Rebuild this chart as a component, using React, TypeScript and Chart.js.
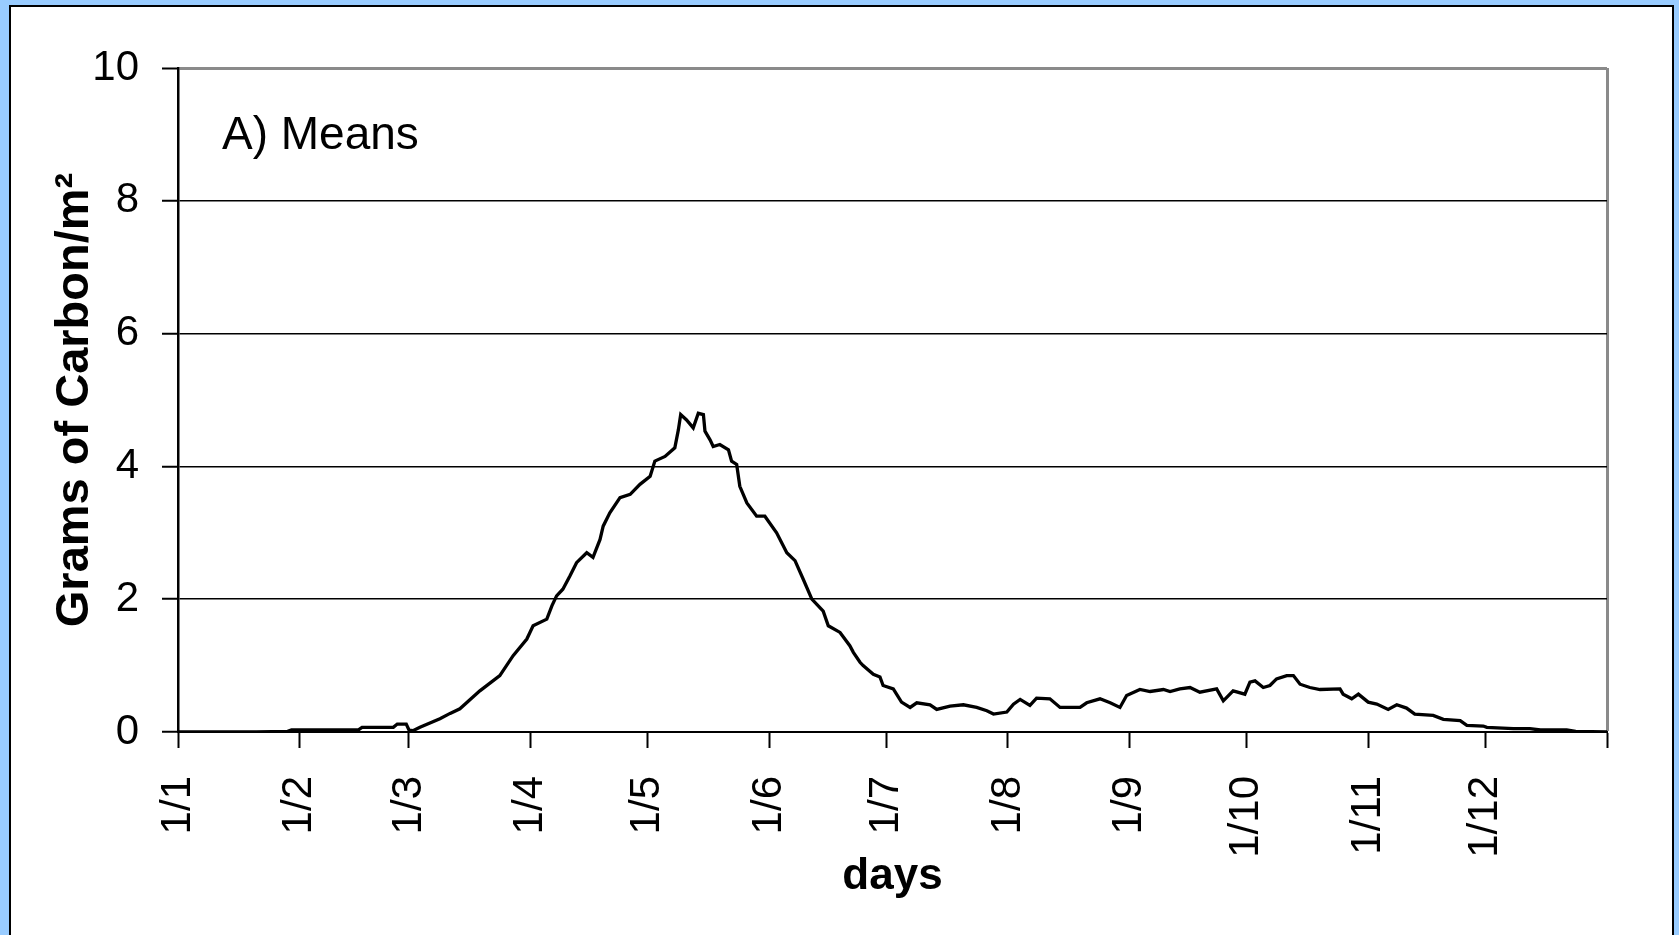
import React, { useEffect, useRef } from "react";
import { Chart, registerables } from "chart.js";

Chart.register(...registerables);

// Day of year (0 = 1 January) for each sample of the mean series
const dayOfYear = [
  0, 10, 20, 28, 29, 46, 47, 55, 56, 58.3, 59, 60, 61.8, 66.9, 69.5, 72, 77.1, 82.2, 85.6, 89.1,
  90.7, 94.2, 95.5, 96.7, 98.3, 100.1, 101.8, 104.4, 106, 107.8, 108.6, 110.3, 112.9, 115.5, 118,
  120.6, 121.8, 124.4, 126.9, 127.8, 128.4, 129.9, 131.6, 132.9, 134.2, 134.6, 135.9, 136.7, 138.4,
  140.6, 141.4, 142.7, 143.5, 145.3, 147.8, 149.9, 152.9, 155.5, 157.6, 159.7, 161.9, 164.8, 166.1,
  169.1, 171.6, 172.5, 174.2, 175, 177.6, 179.3, 180.1, 182.7, 184.8, 187, 188.7, 192.1, 193.8,
  197.2, 200.6, 204, 206.6, 208.3, 211.7, 213.4, 215.1, 217.6, 219.3, 222.7, 225.3, 230.4, 232.1,
  235.5, 238.1, 240.6, 242.3, 245.7, 248.3, 251.7, 253.4, 255.9, 258.5, 261, 265.3, 267, 269.5,
  272.5, 273.8, 275.1, 277.2, 278.9, 280.6, 283.2, 284.9, 286.6, 289.1, 291.7, 296.8, 297.6, 299.8,
  301.5, 304, 306.2, 309.1, 311.3, 313.8, 315.9, 320.6, 323.2, 327.5, 329.2, 333.4, 334.3, 341.1,
  345.3, 348, 354.7, 357, 365,
];

// Mean grams of carbon per square metre on those days
const carbonMeans = [
  0, 0, 0, 0.01, 0.03, 0.03, 0.07, 0.07, 0.12, 0.12, 0.03, 0.02, 0.07, 0.2, 0.28, 0.35, 0.62, 0.85, 1.15, 1.4,
  1.6, 1.7, 1.9, 2.05, 2.15, 2.35, 2.55, 2.7, 2.63, 2.9, 3.1, 3.3, 3.53, 3.58, 3.73,
  3.85, 4.08, 4.15, 4.28, 4.55, 4.78, 4.7, 4.58, 4.8, 4.78, 4.53, 4.4, 4.3, 4.33,
  4.25, 4.08, 4.03, 3.7, 3.45, 3.25, 3.25, 3.0, 2.7, 2.58, 2.3, 2.0, 1.82, 1.6,
  1.5, 1.3, 1.2, 1.05, 1.0, 0.87, 0.83, 0.7, 0.65, 0.45, 0.37, 0.44, 0.41, 0.34,
  0.39, 0.41, 0.37, 0.32, 0.27, 0.3, 0.42, 0.49, 0.4, 0.51, 0.5, 0.37, 0.37, 0.44,
  0.5, 0.44, 0.37, 0.55, 0.64, 0.61, 0.64, 0.61, 0.65, 0.67, 0.6, 0.65, 0.47, 0.62,
  0.57, 0.75, 0.77, 0.67, 0.7, 0.8, 0.85, 0.85, 0.72, 0.67, 0.64, 0.65, 0.57, 0.5,
  0.57, 0.45, 0.42, 0.34, 0.41, 0.36, 0.27, 0.25, 0.19, 0.17, 0.1, 0.09, 0.07, 0.05,
  0.05, 0.03, 0.03, 0.01, 0,
];

// First day of each month, plus the year end
const monthStartDays = [0, 31, 59, 90, 120, 151, 181, 212, 243, 273, 304, 334, 365];
const monthLabels = ["1/1", "1/2", "1/3", "1/4", "1/5", "1/6", "1/7", "1/8", "1/9", "1/10", "1/11", "1/12", ""];

const yMin = 0;
const yMax = 10;
const yStep = 2;

const panelLabel = "A) Means";
const xTitle = "days";
const yTitle = "Grams of Carbon/m²";

const FONT = '"Liberation Sans", Arial, sans-serif';
const W = 1679;
const H = 935;

const panelLabelPlugin = {
  id: "panelLabel",
  afterDraw(chart: any) {
    const { ctx, chartArea } = chart;
    ctx.save();
    ctx.font = `46px ${FONT}`;
    ctx.fillStyle = "#000";
    ctx.textAlign = "left";
    ctx.textBaseline = "alphabetic";
    ctx.fillText(panelLabel, chartArea.left + 44, chartArea.top + 81);
    ctx.restore();
  },
};

export default function App() {
  const canvasRef = useRef<HTMLCanvasElement | null>(null);

  useEffect(() => {
    const canvas = canvasRef.current;
    if (!canvas) return;
    const points = dayOfYear.map((d, i) => ({ x: d, y: carbonMeans[i] }));

    const chart = new Chart(canvas, {
      type: "line",
      data: {
        datasets: [
          {
            data: points,
            borderColor: "#000",
            borderWidth: 3.3,
            pointRadius: 0,
            tension: 0,
            fill: false,
          },
        ],
      },
      plugins: [panelLabelPlugin],
      options: {
        animation: false,
        responsive: false,
        devicePixelRatio: 1,
        layout: { padding: { top: 68, right: 72, left: 0, bottom: 0 } },
        plugins: {
          legend: { display: false },
          tooltip: { enabled: false },
        },
        scales: {
          x: {
            type: "linear",
            min: 0,
            max: 365,
            afterFit(scale: any) {
              scale.height = 203;
              scale.paddingLeft = 0;
              scale.paddingRight = 0;
            },
            afterBuildTicks(scale: any) {
              scale.ticks = monthStartDays.map((v) => ({ value: v }));
            },
            ticks: {
              autoSkip: false,
              minRotation: 90,
              maxRotation: 90,
              padding: 28,
              color: "#000",
              font: { family: FONT, size: 42 },
              callback: (_v: any, i: number) => monthLabels[i],
            },
            grid: {
              drawOnChartArea: true,
              color: (c: any) => (c.tick && c.tick.value === 365 ? "#8a8a8a" : "rgba(0,0,0,0)"),
              lineWidth: (c: any) => (c.tick && c.tick.value === 365 ? 3 : 1),
              tickColor: "#000",
              tickLength: 16,
              tickWidth: 2,
            },
            border: { color: "#000", width: 2 },
            title: {
              display: true,
              text: xTitle,
              color: "#000",
              font: { family: FONT, size: 44, weight: "bold" },
              padding: { top: 0, bottom: 32 },
            },
          },
          y: {
            min: yMin,
            max: yMax,
            afterFit(scale: any) {
              scale.width = 178;
            },
            ticks: {
              stepSize: yStep,
              padding: 23,
              color: "#000",
              font: { family: FONT, size: 42 },
            },
            grid: {
              color: (c: any) => (c.tick && c.tick.value === yMax ? "#8a8a8a" : "#000"),
              lineWidth: (c: any) => (c.tick && c.tick.value === yMax ? 3 : 1.5),
              tickColor: "#000",
              tickLength: 16,
              tickWidth: 2,
            },
            border: { color: "#000", width: 2.5 },
            title: {
              display: true,
              text: yTitle,
              color: "#000",
              font: { family: FONT, size: 47, weight: "bold" },
              padding: { top: 47, bottom: 0 },
            },
          },
        },
      },
    });
    return () => chart.destroy();
  }, []);

  return (
    <div style={{ position: "fixed", left: 0, top: 0, width: W, height: H, background: "#99ccff", overflow: "hidden" }}>
      <div
        style={{
          position: "absolute",
          left: 9,
          top: 5,
          width: 1665 - 4,
          height: H + 20,
          background: "#fff",
          border: "2px solid #000",
        }}
      />
      <canvas ref={canvasRef} width={W} height={H} style={{ position: "absolute", left: 0, top: 0 }} />
    </div>
  );
}
